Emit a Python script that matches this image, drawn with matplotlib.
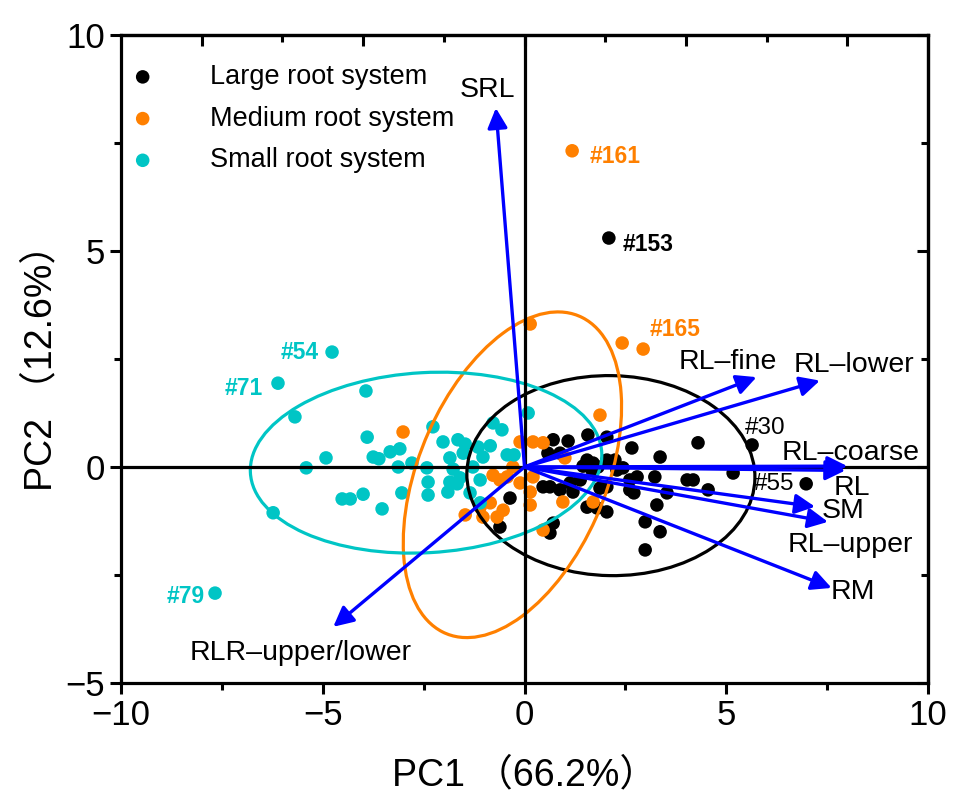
import numpy as np
import matplotlib.pyplot as plt
from matplotlib.patches import Ellipse

plt.rcParams['font.family'] = ['Liberation Sans', 'Noto Sans CJK SC', 'DejaVu Sans']

# scores (PC1, PC2) per group
large_x = [2.09, 5.64, 6.98, 0.71, 1.08, 1.57, 2.04, 2.66, 3.36, 4.30, 1.55, 1.70, 1.45,
           1.67, 1.82, 2.04, 2.24, 2.29, 2.44, 0.46, 0.63, 0.88, 1.13, 1.38, 1.87, 2.04,
           2.61, 2.79, 3.23, 2.61, 2.71, 3.28, 3.53, 4.03, 4.18, 4.55, 5.17, -0.36, -0.61,
           0.71, 0.63, 1.55, 1.80, 2.04, 2.99, 3.36, 2.99, 0.58, 0.88, 1.20]
large_y = [5.30, 0.51, -0.39, 0.63, 0.60, 0.74, 0.69, 0.44, 0.23, 0.56, 0.16, 0.09, 0.02,
           -0.07, 0.00, 0.16, 0.16, -0.07, -0.02, -0.46, -0.46, -0.53, -0.37, -0.30, -0.49,
           -0.46, -0.30, -0.23, -0.23, -0.53, -0.60, -0.88, -0.60, -0.30, -0.30, -0.53,
           -0.14, -0.72, -1.39, -1.30, -1.53, -0.93, -0.95, -1.04, -1.27, -1.50, -1.92,
           0.32, 0.32, -0.58]

medium_x = [1.18, 2.94, 0.14, 2.42, 1.87, -3.01, -0.11, 0.21, 0.46, -0.78, -0.61, -0.43,
            -0.29, -0.11, 0.21, 1.00, 0.14, 0.14, -0.85, -0.53, -1.47, -1.03, -0.68, 0.46,
            0.95, 1.70, -1.10]
medium_y = [7.32, 2.73, 3.31, 2.87, 1.20, 0.81, 0.58, 0.58, 0.56, -0.19, -0.30, -0.23,
            0.00, -0.37, -0.23, 0.21, -0.58, -0.88, -0.83, -1.00, -1.11, -1.16, -1.16,
            -1.46, -0.81, -0.81, -0.93]

small_x = [-4.77, -6.11, -7.67, -3.93, -5.69, -3.90, -2.27, -2.02, -1.65, -1.47, -3.33,
           -3.09, -3.75, -3.61, -4.92, -5.41, -3.13, -2.79, -2.42, -1.85, -1.77, -2.39,
           -1.85, -1.60, -3.04, -2.39, -1.90, -1.35, -4.00, -4.52, -4.32, -3.53, -6.23,
           -0.78, -0.56, -0.85, -1.03, -0.43, -0.26, -1.28, -1.10, -1.52, 0.09, -1.15,
           -1.10, -1.67]
small_y = [2.66, 1.94, -2.92, 1.76, 1.16, 0.69, 0.93, 0.58, 0.63, 0.53, 0.35, 0.42, 0.23,
           0.19, 0.21, -0.02, 0.00, 0.09, -0.02, 0.21, -0.05, -0.35, -0.35, -0.25, -0.60,
           -0.65, -0.58, -0.60, -0.63, -0.74, -0.74, -0.97, -1.06, 1.02, 0.86, 0.49, 0.23,
           0.28, 0.28, 0.00, -0.30, 0.32, 1.25, 0.46, -0.83, -0.39]

groups = ['Large root system', 'Medium root system', 'Small root system']
colors = ['black', '#FF8000', '#00C5C5']

# confidence ellipses: centre x, centre y, width, height, angle
ell_cx = [2.14, -0.30, -2.44]
ell_cy = [-0.20, -0.18, 0.10]
ell_w = [7.14, 8.06, 8.72]
ell_h = [4.63, 4.60, 4.17]
ell_ang = [-1, 64.5, 3]

# loadings
var_names = ['SRL', 'RL–fine', 'RL–lower', 'RL–coarse', 'RL', 'SM', 'RL–upper', 'RM',
             'RLR–upper/lower']
load_x = [-0.71, 5.75, 7.32, 8.00, 7.95, 7.20, 7.52, 7.61, -4.74]
load_y = [8.31, 2.08, 2.00, 0.02, -0.08, -0.92, -1.27, -2.80, -3.70]
lab_x = [-0.93, 5.04, 8.17, 8.09, 8.12, 7.89, 8.07, 8.14, -5.54]
lab_y = [8.73, 2.43, 2.36, 0.32, -0.49, -1.02, -1.81, -2.89, -4.31]

# labelled genotypes
ids = ['#161', '#153', '#165', '#54', '#71', '#79', '#30', '#55']
id_x = [1.62, 2.44, 3.11, -5.11, -6.48, -7.92, 5.96, 6.68]
id_y = [7.18, 5.14, 3.19, 2.66, 1.81, -2.99, 0.90, -0.39]
id_col = ['#FF8000', 'black', '#FF8000', '#00C5C5', '#00C5C5', '#00C5C5', 'black', 'black']
id_ha = ['left', 'left', 'left', 'right', 'right', 'right', 'center', 'right']
id_bold = [True, True, True, True, True, True, False, False]

fig = plt.figure(figsize=(9.59, 8.05), dpi=100)
ax = fig.add_axes([0.1262, 0.1516, 0.8415, 0.8049])

for gx, gy, g, c in zip([large_x, medium_x, small_x], [large_y, medium_y, small_y], groups, colors):
    ax.scatter(gx, gy, s=95, color=c, edgecolors='none', label=g, zorder=2)

for i in range(3):
    ax.add_patch(Ellipse((ell_cx[i], ell_cy[i]), ell_w[i], ell_h[i], angle=ell_ang[i],
                         fill=False, ec=colors[i], lw=2.3, zorder=3))

ax.axhline(0, color='black', lw=2.3, zorder=4)
ax.axvline(0, color='black', lw=2.3, zorder=4)

for name, x, y, tx, ty in zip(var_names, load_x, load_y, lab_x, lab_y):
    ax.annotate('', xy=(x, y), xytext=(0, 0),
                arrowprops=dict(arrowstyle='-|>', color='#0000FF', lw=2.4,
                                mutation_scale=30, shrinkA=0, shrinkB=0), zorder=5)
    ax.text(tx, ty, name, fontsize=20.5, ha='center', va='center', zorder=6)

for t, x, y, c, ha, b in zip(ids, id_x, id_y, id_col, id_ha, id_bold):
    ax.text(x, y, t, color=c, fontsize=16.5 if b else 17.5, ha=ha, va='center',
            fontweight='bold' if b else 'normal', zorder=6)

ax.set_xlim(-10, 10)
ax.set_ylim(-5, 10)
ax.set_xticks([-10, -5, 0, 5, 10])
ax.set_xticks([-7.5, -2.5, 2.5, 7.5], minor=True)
ax.set_yticks([-5, 0, 5, 10])
ax.set_yticks([-2.5, 2.5, 7.5], minor=True)
ax.tick_params(which='both', direction='out', width=2.2, labelsize=25, top=False, right=False)
ax.tick_params(which='major', length=8)
ax.tick_params(which='minor', length=5)
for sp in ax.spines.values():
    sp.set_linewidth(2.3)

top = ax.secondary_xaxis('top')
top.set_xticks([-8, -4, 0, 4, 8])
top.set_xticks([-6, -2, 2, 6], minor=True)
top.tick_params(which='both', direction='in', width=2.2, labeltop=False)
top.tick_params(which='major', length=8)
top.tick_params(which='minor', length=5)
top.spines['top'].set_linewidth(2.3)

right = ax.secondary_yaxis('right')
right.set_yticks([-5, 0, 5, 10])
right.set_yticks([-2.5, 2.5, 7.5], minor=True)
right.tick_params(which='both', direction='in', width=2.2, labelright=False)
right.tick_params(which='major', length=8)
right.tick_params(which='minor', length=5)
right.spines['right'].set_linewidth(2.3)

ax.set_xlabel('PC1 （66.2%）', fontsize=27, labelpad=18)
ax.set_ylabel('PC2 （12.6%）', fontsize=27, labelpad=4)

ax.legend(loc='upper left', bbox_to_anchor=(0.0, 0.972), frameon=False, fontsize=19.5,
          handlelength=0.8, handletextpad=2.1, labelspacing=0.58, borderaxespad=0.0,
          borderpad=0.4)

fig.savefig('out.png', dpi=100)
